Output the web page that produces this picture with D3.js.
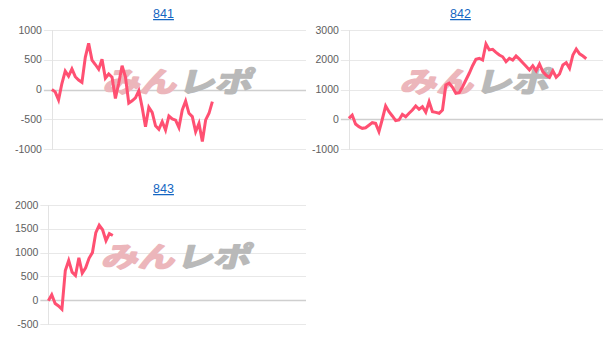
<!DOCTYPE html>
<html>
<head>
<meta charset="utf-8">
<script src="https://cdnjs.cloudflare.com/ajax/libs/d3/7.8.5/d3.min.js"></script>
<style>
  body { margin: 0; background: #fff; }
  svg { display: block; }
</style>
</head>
<body>
<div id="charts"></div>
<script>
// Chart titles (links) and y tick values
const titles = ["841", "842", "843"];
const ticks841 = [-1000, -500, 0, 500, 1000];
const ticks842 = [-1000, 0, 1000, 2000, 3000];
const ticks843 = [-500, 0, 500, 1000, 1500, 2000];

// number of x slots on every chart (labels hidden)
const slotCount = 77;

// series values
const values841 = [0, -40, -175, 100, 310, 225, 345, 215, 160, 120, 540, 775, 495, 420, 340, 510,
  190, 260, 205, -150, 105, 400, 215, -230, -190, -140, -20, -300, -625, -300, -385, -610, -670,
  -540, -680, -445, -495, -515, -640, -345, -195, -400, -455, -710, -570, -875, -510, -400, -205];
const values842 = [30, 140, -160, -250, -305, -285, -200, -115, -140, -415, 0, 445, 255, 110, -45,
  -25, 165, 85, 200, 310, 445, 335, 420, 235, 590, 255, 230, 200, 310, 1150, 1210, 1075, 870, 895,
  1095, 1320, 1545, 1800, 2015, 2050, 1990, 2530, 2330, 2350, 2250, 2160, 2100, 1935, 2050, 1990,
  2125, 2020, 1900, 1780, 1655, 1800, 1630, 1855, 1600, 1480, 1410, 1630, 1410, 1520, 1825, 1900,
  1710, 2160, 2360, 2200, 2125, 2035];
const values843 = [-13, 115, -70, -120, -190, 625, 835, 590, 520, 890, 570, 680, 880, 1000, 1420,
  1575, 1480, 1250, 1400, 1360];

const charts = [
  { title: titles[0], values: values841, ticks: ticks841, x0: 0, y0: 0 },
  { title: titles[1], values: values842, ticks: ticks842, x0: 297, y0: 0 },
  { title: titles[2], values: values843, ticks: ticks843, x0: 0, y0: 175 }
];

const width = 616, height = 345;
const svg = d3.select("#charts").append("svg")
  .attr("width", width)
  .attr("height", height);

const labelFont = "10.5px 'Liberation Sans', Arial, sans-serif";

charts.forEach(c => {
  const g = svg.append("g").attr("transform", `translate(${c.x0},${c.y0})`);

  // measure the widest tick label so the plot starts right after it
  const probe = g.append("g").style("font", labelFont);
  let maxW = 0;
  c.ticks.forEach(t => {
    const tx = probe.append("text").text(t);
    maxW = Math.max(maxW, tx.node().getComputedTextLength());
  });
  probe.remove();

  const left = 15 + maxW + 10;
  const right = 306;
  const top = 30, bottom = 149;

  const x = d3.scalePoint()
    .domain(d3.range(slotCount))
    .range([left, right]);

  const y = d3.scaleLinear()
    .domain(d3.extent(c.ticks))
    .range([bottom, top]);

  // title link
  g.append("text")
    .attr("x", 163.5)
    .attr("y", 18)
    .attr("text-anchor", "middle")
    .style("font", "12.5px 'Liberation Sans', Arial, sans-serif")
    .style("fill", "#1466c2")
    .style("text-decoration", "underline")
    .text(c.title);

  // horizontal grid lines (with small tick marks to the left)
  g.append("g")
    .selectAll("line")
    .data(c.ticks)
    .join("line")
    .attr("x1", left - 8)
    .attr("x2", right)
    .attr("y1", d => Math.round(y(d)) + 0.5)
    .attr("y2", d => Math.round(y(d)) + 0.5)
    .attr("stroke", d => d === 0 ? "#cfcfcf" : "#e8e8e8")
    .attr("stroke-width", d => d === 0 ? 1.5 : 1);

  // y axis border
  g.append("line")
    .attr("x1", Math.round(left) + 0.5)
    .attr("x2", Math.round(left) + 0.5)
    .attr("y1", top)
    .attr("y2", bottom + 1)
    .attr("stroke", "#e3e3e3");

  // tick labels
  g.append("g")
    .selectAll("text")
    .data(c.ticks)
    .join("text")
    .attr("x", left - 10)
    .attr("y", d => y(d))
    .attr("dy", "0.35em")
    .attr("text-anchor", "end")
    .style("font", labelFont)
    .style("fill", "#5e5e5e")
    .text(d => d);

  // watermark
  const wm = g.append("g")
    .attr("transform", `translate(${(left + right) / 2 - 2},${(top + bottom) / 2 + 2}) skewX(-14) scale(1.05,0.8)`)
    .style("font-family", "'Noto Sans CJK JP', sans-serif")
    .style("font-weight", 700)
    .style("font-size", "35px")
    .style("stroke-width", 2.2)
    .style("stroke-linejoin", "round");
  wm.append("text")
    .attr("x", -1)
    .attr("text-anchor", "end")
    .style("fill", "#ecb6bb")
    .style("stroke", "#ecb6bb")
    .text("みん");
  wm.append("text")
    .attr("x", 1)
    .attr("text-anchor", "start")
    .style("fill", "#b9b9b9")
    .style("stroke", "#b9b9b9")
    .text("レポ");

  // the line
  const line = d3.line()
    .x((d, i) => x(i))
    .y(d => y(d));

  g.append("path")
    .datum(c.values)
    .attr("d", line)
    .attr("fill", "none")
    .attr("stroke", "#ff5072")
    .attr("stroke-width", 3)
    .attr("stroke-linejoin", "miter");
});
</script>
</body>
</html>
